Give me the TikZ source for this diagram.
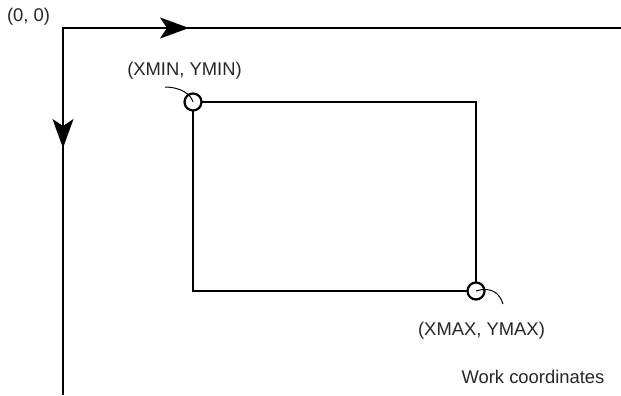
\documentclass[tikz,border=0pt]{standalone}
\usepackage{fontspec}
\setmainfont{Liberation Sans}
\usetikzlibrary{arrows.meta}
\begin{document}
\begin{tikzpicture}[x=1bp,y=-1bp,
  axis/.style={line width=2.2bp},
  arr/.style={line width=2.2bp,-{Stealth[length=29bp,width=21bp,inset=7bp]}},
  box/.style={line width=2.2bp},
  ring/.style={circle,draw,line width=2.2bp,fill=white,minimum size=17bp,inner sep=0pt},
  leader/.style={line width=1bp},
  lbl/.style={font=\fontsize{18.4bp}{20bp}\selectfont,inner sep=0pt,text=black!85}]
\useasboundingbox (0,0) rectangle (621,395);
\coordinate (O) at (63,28);
\coordinate (XE) at (621,28);
\coordinate (YE) at (63,395);
\coordinate (XA) at (189,28);
\coordinate (YA) at (63,148);
\draw[axis] (XE) -- (O) -- (YE);
\draw[arr] (O) -- (XA);
\draw[arr] (O) -- (YA);
\coordinate (TL) at (193,102);
\coordinate (TR) at (476,102);
\coordinate (BR) at (476,291);
\coordinate (BL) at (193,291);
\draw[box] (TL) -- (TR) -- (BR) -- (BL) -- cycle;
\node[ring] (c1) at (TL) {};
\node[ring] (c2) at (BR) {};
\coordinate (l1) at (165,87);
\coordinate (l2) at (503,304);
\draw[leader] (l1) .. controls (180,87) and (191,94) .. (c1.center);
\draw[leader] (c2.center) .. controls (492,286) and (500,294) .. (l2);
\node[lbl] (t0) at (28.5,16.5) {(0, 0)};
\node[lbl] (t1) at (184.5,71) {(XMIN, YMIN)};
\node[lbl] (t2) at (481.5,331) {(XMAX, YMAX)};
\node[lbl] (t3) at (533,377) {Work coordinates};
\end{tikzpicture}
\end{document}
